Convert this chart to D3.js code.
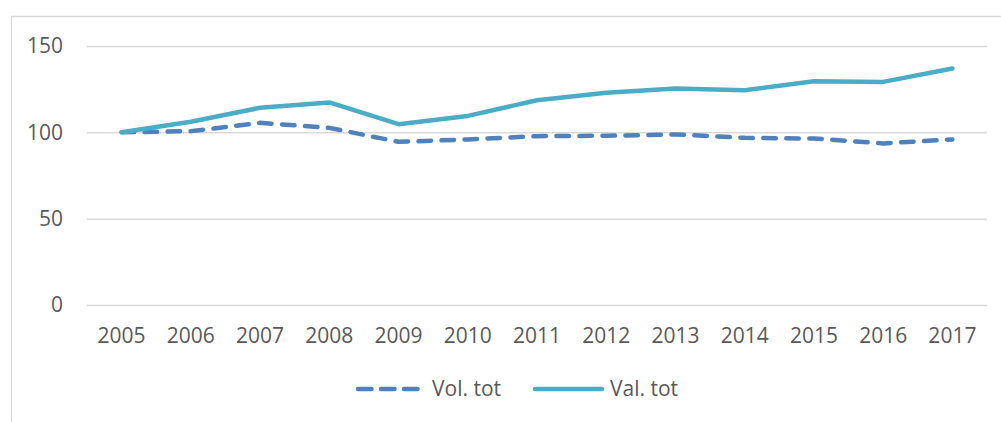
<!DOCTYPE html>
<html>
<head>
<meta charset="utf-8">
<script src="https://cdn.jsdelivr.net/npm/d3@7"></script>
<style>
  body { margin: 0; background: #fff; }
  svg { display: block; }
  .axis text, .legend text { fill: #595959; font-size: 21px; font-family: "Open Sans", sans-serif; }
</style>
</head>
<body>
<svg id="chart" width="1001" height="422"></svg>
<script>
// values (index, 2005 = 100)
var years = ["2005", "2006", "2007", "2008", "2009", "2010", "2011",
             "2012", "2013", "2014", "2015", "2016", "2017"];
var volTot = [100, 100.7, 105.5, 102.6, 94.5, 95.9, 97.8,
              98.0, 98.8, 96.8, 96.4, 93.6, 95.9];
var valTot = [100, 106.1, 114.2, 117.3, 104.7, 109.5, 118.6,
              122.9, 125.4, 124.4, 129.6, 129.2, 137.0];
var yTicks = [0, 50, 100, 150];
var seriesNames = ["Vol. tot", "Val. tot"];

var series = [
  { name: seriesNames[0], values: volTot, color: "#4f81bd", dash: "12.5,10.5" },
  { name: seriesNames[1], values: valTot, color: "#4bacc6", dash: null }
];

var svg = d3.select('#chart');

// chart frame, cut off at right and bottom like the source
svg.append('path')
    .attr('d', 'M11.5,422V16.5H1001')
    .attr('fill', 'none')
    .attr('stroke', '#d9d9d9')
    .attr('stroke-width', 1.3);

var x = d3.scaleBand()
    .domain(years)
    .range([87, 987]);

var y = d3.scaleLinear()
    .domain([0, 150])
    .range([305, 46]);

var yAxis = svg.append('g')
    .attr('class', 'axis')
    .attr('transform', 'translate(87,0)')
    .call(d3.axisLeft(y)
      .tickValues(yTicks)
      .tickSize(-900)
      .tickPadding(24));
yAxis.select('.domain').remove();
yAxis.selectAll('line')
    .attr('stroke', '#d9d9d9')
    .attr('stroke-width', 1.5);

var xAxis = svg.append('g')
    .attr('class', 'axis')
    .attr('transform', 'translate(0,305)')
    .call(d3.axisBottom(x)
      .tickSize(0)
      .tickPadding(23.5));
xAxis.select('.domain').remove();

var line = d3.line()
    .x(function(d, i) { return x(years[i]) + x.bandwidth() / 2; })
    .y(function(d) { return y(d); });

svg.selectAll('path.series')
    .data(series)
  .enter().append('path')
    .attr('class', 'series')
    .attr('d', function(d) { return line(d.values); })
    .attr('fill', 'none')
    .attr('stroke', function(d) { return d.color; })
    .attr('stroke-width', 4.5)
    .attr('stroke-linejoin', 'round')
    .attr('stroke-linecap', 'round')
    .attr('stroke-dasharray', function(d) { return d.dash; });

// legend
var legendPos = [356, 533];
var legend = svg.append('g')
    .attr('class', 'legend');

var items = legend.selectAll('g')
    .data(series)
  .enter().append('g')
    .attr('transform', function(d, i) { return 'translate(' + legendPos[i] + ',389)'; });

items.append('line')
    .attr('x1', 2)
    .attr('x2', function(d) { return d.dash ? 62 : 69; })
    .attr('stroke', function(d) { return d.color; })
    .attr('stroke-width', 4.5)
    .attr('stroke-linecap', 'round')
    .attr('stroke-dasharray', function(d) { return d.dash ? "13.5,9.5" : null; });

items.append('text')
    .attr('x', function(d) { return d.dash ? 76 : 77; })
    .attr('dy', '0.35em')
    .text(function(d) { return d.name; });
</script>
</body>
</html>
